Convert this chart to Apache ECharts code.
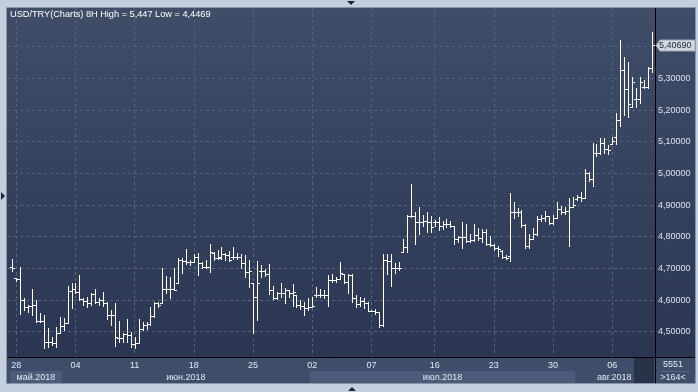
<!DOCTYPE html>
<html><head><meta charset="utf-8">
<script src="https://cdn.jsdelivr.net/npm/echarts@6/dist/echarts.min.js"></script>
<style>html,body{margin:0;padding:0;background:#c4cfdd;overflow:hidden}#c{width:698px;height:392px}</style>
</head><body><div id="c"></div>
<script>
const titleText = 'USD/TRY(Charts) 8H High = 5,447 Low = 4,4469';
const opens = [4.705,4.668,4.665,4.600,4.579,4.581,4.584,4.534,4.535,4.468,4.468,4.465,4.495,4.518,4.526,4.630,4.634,4.626,4.602,4.598,
4.590,4.619,4.595,4.600,4.590,4.553,4.553,4.481,4.479,4.493,4.490,4.461,4.463,4.507,4.521,4.523,4.550,4.590,4.590,4.635,
4.635,4.635,4.653,4.726,4.722,4.721,4.721,4.737,4.716,4.705,4.705,4.748,4.732,4.735,4.745,4.742,4.735,4.737,4.737,4.716,
4.690,4.653,4.608,4.693,4.693,4.681,4.632,4.605,4.621,4.621,4.632,4.621,4.616,4.584,4.581,4.574,4.579,4.616,4.616,4.616,
4.617,4.664,4.664,4.666,4.682,4.658,4.678,4.605,4.587,4.598,4.590,4.566,4.566,4.563,4.522,4.727,4.724,4.700,4.700,4.753,
4.766,4.866,4.866,4.847,4.847,4.849,4.845,4.845,4.845,4.835,4.840,4.840,4.835,4.793,4.798,4.798,4.787,4.790,4.806,4.796,
4.814,4.777,4.775,4.763,4.755,4.735,4.740,4.877,4.877,4.878,4.838,4.770,4.793,4.810,4.855,4.860,4.864,4.842,4.858,4.886,
4.879,4.882,4.895,4.918,4.924,4.921,5.002,4.981,5.063,5.063,5.097,5.076,5.093,5.116,5.170,5.326,5.265,5.210,5.234,5.236,
5.272,5.272,5.332];
const highs = [4.728,4.670,4.705,4.605,4.584,4.634,4.600,4.558,4.553,4.511,4.484,4.514,4.547,4.542,4.644,4.653,4.655,4.679,4.605,4.611,
4.621,4.634,4.605,4.626,4.595,4.568,4.590,4.534,4.497,4.539,4.500,4.484,4.540,4.530,4.530,4.579,4.595,4.595,4.700,4.677,
4.674,4.700,4.732,4.732,4.760,4.726,4.744,4.747,4.721,4.726,4.776,4.753,4.758,4.768,4.750,4.756,4.768,4.747,4.745,4.742,
4.726,4.655,4.724,4.710,4.697,4.714,4.644,4.626,4.655,4.637,4.632,4.650,4.616,4.600,4.595,4.605,4.608,4.642,4.634,4.632,
4.679,4.682,4.672,4.721,4.682,4.682,4.682,4.616,4.608,4.605,4.593,4.568,4.572,4.563,4.745,4.745,4.745,4.717,4.721,4.793,
4.868,4.966,4.877,4.893,4.868,4.879,4.866,4.853,4.863,4.851,4.856,4.851,4.835,4.803,4.845,4.840,4.808,4.840,4.827,4.824,
4.824,4.803,4.777,4.772,4.758,4.743,4.937,4.910,4.890,4.883,4.840,4.810,4.828,4.865,4.870,4.882,4.864,4.870,4.910,4.896,
4.893,4.921,4.926,4.932,4.942,5.013,5.005,5.095,5.093,5.111,5.111,5.089,5.116,5.192,5.420,5.366,5.353,5.303,5.268,5.305,
5.295,5.337,5.447];
const lows = [4.693,4.660,4.555,4.568,4.563,4.553,4.532,4.532,4.447,4.453,4.458,4.451,4.495,4.505,4.526,4.574,4.621,4.600,4.584,4.579,
4.584,4.590,4.584,4.581,4.539,4.521,4.455,4.468,4.468,4.466,4.453,4.450,4.463,4.505,4.507,4.521,4.547,4.579,4.590,4.621,
4.605,4.632,4.653,4.684,4.713,4.711,4.721,4.679,4.700,4.700,4.687,4.726,4.729,4.728,4.726,4.724,4.730,4.728,4.700,4.674,
4.642,4.497,4.537,4.674,4.676,4.618,4.603,4.603,4.608,4.592,4.608,4.581,4.577,4.571,4.553,4.568,4.579,4.608,4.610,4.605,
4.580,4.658,4.658,4.666,4.654,4.622,4.595,4.577,4.582,4.574,4.566,4.564,4.556,4.514,4.519,4.682,4.645,4.685,4.696,4.753,
4.751,4.861,4.777,4.808,4.833,4.816,4.816,4.835,4.821,4.824,4.830,4.830,4.777,4.782,4.763,4.782,4.782,4.787,4.790,4.782,
4.775,4.772,4.758,4.740,4.733,4.730,4.724,4.860,4.865,4.832,4.765,4.765,4.792,4.806,4.850,4.848,4.839,4.840,4.858,4.873,
4.872,4.771,4.893,4.916,4.914,4.921,4.977,4.960,5.055,5.061,5.063,5.061,5.093,5.093,5.150,5.184,5.179,5.210,5.210,5.223,
5.268,5.268,5.321];
const closes = [4.700,4.665,4.600,4.579,4.581,4.584,4.534,4.535,4.468,4.468,4.465,4.495,4.518,4.526,4.630,4.634,4.626,4.602,4.598,4.590,
4.619,4.595,4.600,4.590,4.553,4.553,4.482,4.479,4.493,4.490,4.461,4.463,4.507,4.521,4.523,4.550,4.590,4.584,4.635,4.635,
4.635,4.632,4.726,4.722,4.721,4.719,4.737,4.716,4.705,4.705,4.753,4.732,4.732,4.745,4.742,4.726,4.737,4.737,4.716,4.690,
4.693,4.608,4.653,4.693,4.681,4.632,4.605,4.621,4.621,4.632,4.621,4.626,4.584,4.581,4.574,4.579,4.581,4.616,4.616,4.617,
4.664,4.664,4.666,4.685,4.658,4.678,4.605,4.587,4.598,4.590,4.566,4.566,4.563,4.522,4.727,4.724,4.700,4.700,4.700,4.766,
4.866,4.866,4.847,4.847,4.849,4.845,4.830,4.845,4.835,4.840,4.840,4.835,4.793,4.798,4.798,4.787,4.790,4.806,4.796,4.814,
4.777,4.775,4.763,4.761,4.735,4.733,4.877,4.877,4.878,4.838,4.770,4.793,4.810,4.855,4.860,4.864,4.842,4.858,4.886,4.879,
4.882,4.895,4.900,4.924,4.921,5.002,4.981,5.063,5.063,5.097,5.076,5.074,5.103,5.170,5.326,5.265,5.220,5.290,5.234,5.290,
5.272,5.332,5.4069];
const dayTickIndex = [1,16,31,46,61,76,91,107,122,137,152];
const dayLabels = ['28','04','11','18','25','02','07','16','23','30','06'];
const monthLabels = ['май.2018','июн.2018','июл.2018','авг.2018'];
const monthBounds = [-0.5,12.5,75.5,142.5,162.5];
const yGridValues = [4.5,4.6,4.7,4.8,4.9,5.0,5.1,5.2,5.3,5.4];
const yLabelValues = [4.5,4.6,4.7,4.8,4.9,5.0,5.1,5.2,5.3];
const lastPrice = 5.40690;
const cornerTop = '5551';
const cornerBottom = '>164<';
const windowStart = 157.5;

const FONT = '"Liberation Sans", Arial, sans-serif';
const data = opens.map((o, i) => [i, o, highs[i], lows[i], closes[i]]);

function renderItem(params, api) {
  const i = api.value(0);
  const pO = api.coord([i, api.value(1)]);
  const pH = api.coord([i, api.value(2)]);
  const pL = api.coord([i, api.value(3)]);
  const pC = api.coord([i, api.value(4)]);
  const x = Math.round(pH[0]) + 0.5;
  const yH = Math.round(pH[1]);
  const yL = Math.max(Math.round(pL[1]) + 1, yH + 2);
  const yO = Math.round(pO[1]) + 0.5;
  const yC = Math.round(pC[1]) + 0.5;
  const st = {stroke: '#ffffff', lineWidth: 1};
  return {type: 'group', children: [
    {type: 'line', shape: {x1: x, y1: yH, x2: x, y2: yL}, style: st},
    {type: 'line', shape: {x1: x - 2.5, y1: yO, x2: x, y2: yO}, style: st},
    {type: 'line', shape: {x1: x, y1: yC, x2: x + 2.5, y2: yC}, style: st}
  ]};
}

const chart = echarts.init(document.getElementById('c'), null, {renderer: 'canvas', width: 698, height: 392});
const gridLine = {show: true, lineStyle: {color: '#56647f', type: [3, 3], width: 1}};
chart.setOption({
  animation: false,
  backgroundColor: 'transparent',
  title: {text: titleText, left: 10, top: 10, padding: 0,
    textStyle: {color: '#ffffff', fontSize: 9.2, fontWeight: 'normal', fontFamily: FONT}},
  grid: {left: 8, top: 8, width: 647, height: 349, show: false},
  xAxis: {type: 'value', min: -1.09, max: 162.83,
    axisLine: {show: true, onZero: false, lineStyle: {color: '#000000', width: 1}},
    axisTick: {show: false, customValues: dayTickIndex},
    splitLine: gridLine,
    axisLabel: {customValues: dayTickIndex, margin: 4, color: '#e2e8f2', fontSize: 9, fontFamily: FONT,
      formatter: v => dayLabels[dayTickIndex.indexOf(Math.round(v))]}
  },
  yAxis: {type: 'value', position: 'right', min: 4.4201, max: 5.5222,
    axisLine: {show: true, onZero: false, lineStyle: {color: '#000000', width: 1}},
    axisTick: {show: false, customValues: yGridValues},
    splitLine: gridLine,
    axisLabel: {customValues: yLabelValues, margin: 3, align: 'left', color: '#dce4f1', fontSize: 9, fontFamily: FONT,
      formatter: v => v.toFixed(5).replace('.', ',')}
  },
  series: [{type: 'custom', renderItem: renderItem, data: data, encode: {x: 0, y: [1, 2, 3, 4]}, z: 5}]
});

function px(v) { return chart.convertToPixel({xAxisIndex: 0}, v); }
function py(v) { return chart.convertToPixel({yAxisIndex: 0}, v); }

const g = [];
g.push({type: 'rect', z: -100, shape: {x: 7, y: 8, width: 688, height: 349},
  style: {fill: new echarts.graphic.LinearGradient(0, 0, 0, 1, [{offset: 0, color: '#3f4d68'}, {offset: 1, color: '#2b3752'}])}});
g.push({type: 'rect', z: -100, shape: {x: 7, y: 357, width: 688, height: 26}, style: {fill: '#3e4d6a'}});
for (let k = 0; k < monthLabels.length; k++) {
  const x0 = px(monthBounds[k]), x1 = px(monthBounds[k + 1]);
  if (k % 2 === 0) {
    g.push({type: 'rect', z: -90, shape: {x: Math.round(x0), y: 371, width: Math.round(x1) - Math.round(x0), height: 12}, style: {fill: '#4c5b79'}});
  }
  g.push({type: 'text', z: 50, style: {text: monthLabels[k], x: (x0 + x1) / 2, y: 377.5, align: 'center', verticalAlign: 'middle',
    fill: '#e2e8f2', font: '9px ' + FONT}});
}
g.push({type: 'rect', z: -80, shape: {x: Math.round(px(windowStart)), y: 358, width: 654 - Math.round(px(windowStart)), height: 25}, style: {fill: '#283349'}});
g.push({type: 'line', z: 40, shape: {x1: 655.5, y1: 357, x2: 655.5, y2: 383}, style: {stroke: '#000', lineWidth: 1}});
g.push({type: 'line', z: 40, shape: {x1: 655, y1: 357.5, x2: 695, y2: 357.5}, style: {stroke: '#000', lineWidth: 1}});
g.push({type: 'line', z: 40, shape: {x1: 662, y1: 371.5, x2: 690, y2: 371.5}, style: {stroke: '#56657f', lineWidth: 1}});
g.push({type: 'rect', z: 40, shape: {x: 6.5, y: 7.5, width: 689, height: 376}, style: {fill: null, stroke: '#8795ab', lineWidth: 1}});
g.push({type: 'text', z: 50, style: {text: cornerTop, x: 673, y: 365, align: 'center', verticalAlign: 'middle', fill: '#e2e8f2', font: '9px ' + FONT}});
g.push({type: 'text', z: 50, style: {text: cornerBottom, x: 673, y: 378, align: 'center', verticalAlign: 'middle', fill: '#e2e8f2', font: '9px ' + FONT}});
const yl = Math.round(py(lastPrice)) + 0.5;
g.push({type: 'polygon', z: 60, shape: {points: [[656, yl], [660, yl - 5.5], [695, yl - 5.5], [695, yl + 5.5], [660, yl + 5.5]]},
  style: {fill: '#d3d8e0', stroke: '#9aa5b5', lineWidth: 1}});
g.push({type: 'text', z: 61, style: {text: lastPrice.toFixed(5).replace('.', ','), x: 659, y: yl, align: 'left', verticalAlign: 'middle',
  fill: '#1e2636', font: '9px ' + FONT}});
g.push({type: 'polygon', z: 60, shape: {points: [[347, 1], [355, 1], [351, 5]]}, style: {fill: '#1c2538'}});
g.push({type: 'polygon', z: 60, shape: {points: [[348, 391], [356, 391], [352, 387]]}, style: {fill: '#1c2538'}});
g.push({type: 'polygon', z: 60, shape: {points: [[1, 192], [1, 200], [5, 196]]}, style: {fill: '#1c2538'}});
chart.setOption({graphic: {elements: g}});
</script>
</body></html>
